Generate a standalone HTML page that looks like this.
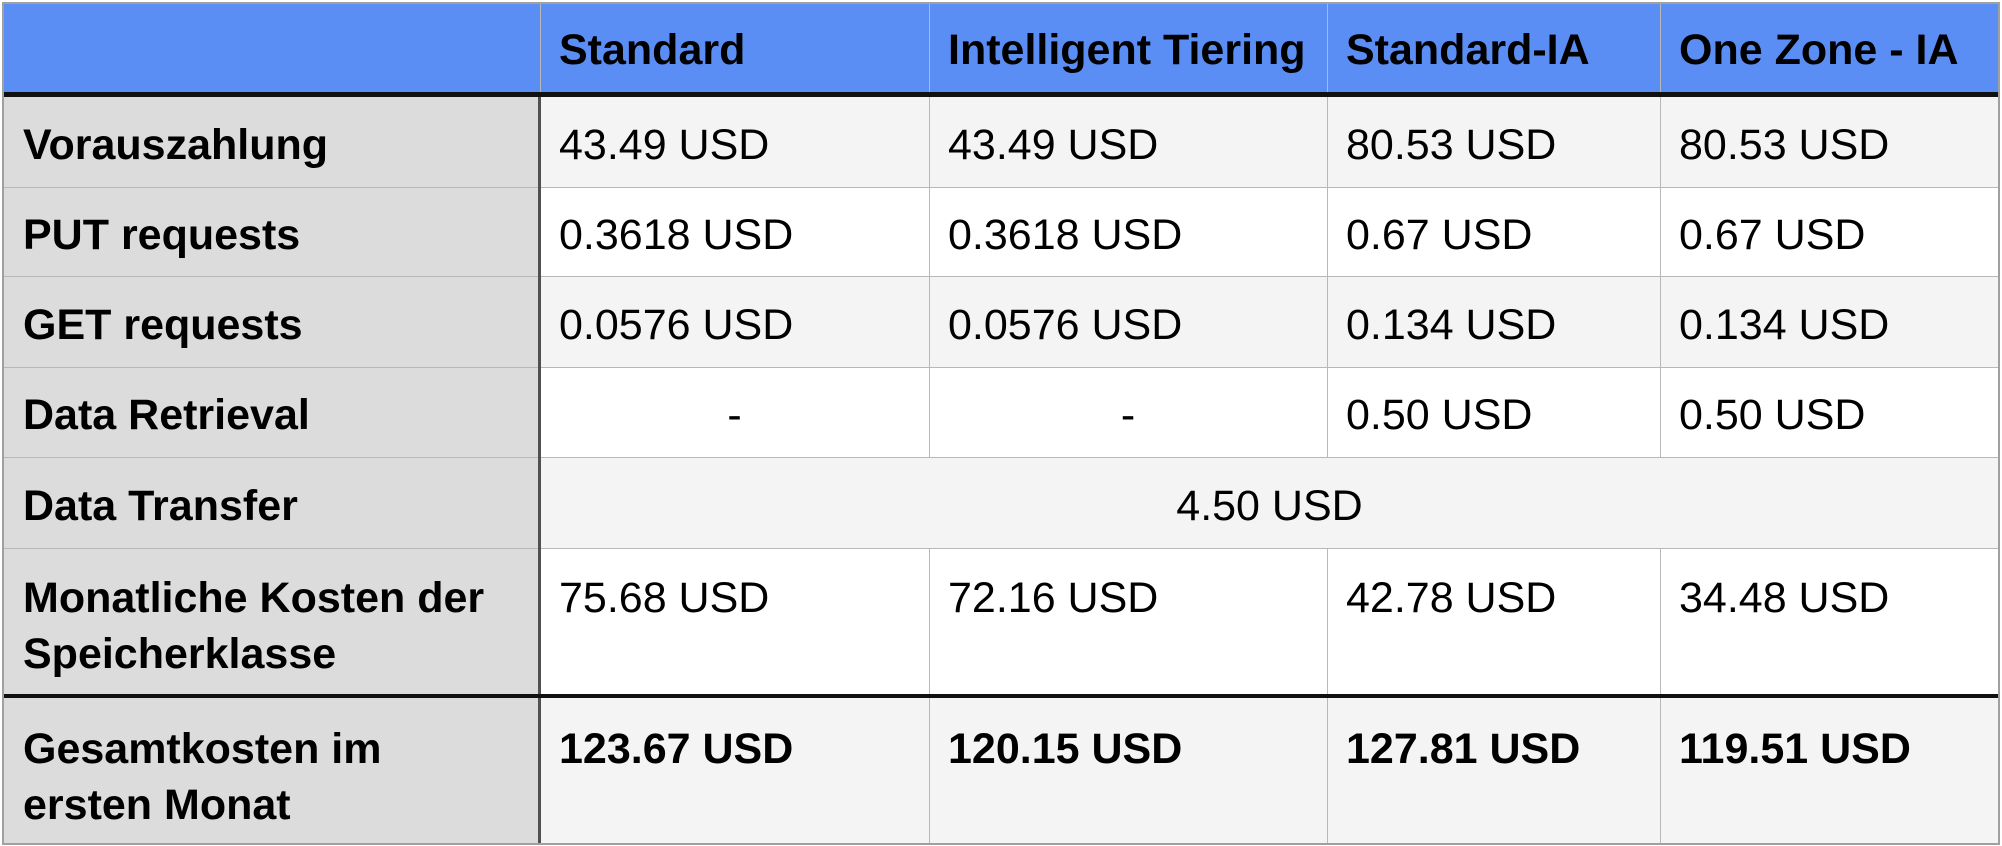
<!DOCTYPE html>
<html><head><meta charset="utf-8"><style>
body{margin:0;width:2002px;height:846px;background:#fff;overflow:hidden;font-family:"Liberation Sans",Arial,sans-serif;}
.c{position:absolute;box-sizing:border-box;display:flex;align-items:center;padding-left:19px;padding-top:5px;font-size:43px;color:#000;}
.t{align-items:flex-start;line-height:56px;}
.h{font-weight:bold;}
.l{position:absolute;}
</style></head><body>
<div id="tbl"></div>
<script>
const colNames=["","Standard","Intelligent Tiering","Standard-IA","One Zone - IA"];
const rowLabels=["Vorauszahlung","PUT requests","GET requests","Data Retrieval","Data Transfer","Monatliche Kosten der Speicherklasse","Gesamtkosten im ersten Monat"];
const vStandard=["43.49 USD","0.3618 USD","0.0576 USD","-","","75.68 USD","123.67 USD"];
const vIntel=["43.49 USD","0.3618 USD","0.0576 USD","-","","72.16 USD","120.15 USD"];
const vIA=["80.53 USD","0.67 USD","0.134 USD","0.50 USD","","42.78 USD","127.81 USD"];
const vOZ=["80.53 USD","0.67 USD","0.134 USD","0.50 USD","","34.48 USD","119.51 USD"];
const transfer="4.50 USD";
const cols=[4,540,929,1327,1660,1999];
const rows=[97,188,277,368,458,549,696,843];
const root=document.getElementById('tbl');
function cell(x,y,w,h,txt,bg,cls,name){
 const d=document.createElement('div');d.className='c '+(cls||'');
 d.style.cssText=`left:${x}px;top:${y}px;width:${w}px;height:${h}px;background:${bg};`;
 d.textContent=txt;
 
 
 root.appendChild(d);return d;}
function line(x,y,w,h,c,name){const d=document.createElement('div');d.className='l';
 d.style.cssText=`left:${x}px;top:${y}px;width:${w}px;height:${h}px;background:${c};`;
 
 
 root.appendChild(d);}
for(let i=0;i<5;i++){const d=cell(cols[i],4,cols[i+1]-cols[i],89,colNames[i],'#5b8ef4','h','header-'+(i||'blank'));d.style.paddingTop='3px';}
const vals=[vStandard,vIntel,vIA,vOZ];
for(let r=0;r<7;r++){
 const y=rows[r],h=rows[r+1]-rows[r];
 const bg=(r%2==0)?'#f4f4f4':'#ffffff';
 const tall=r>=5;
 const lc=cell(cols[0],y,cols[1]-cols[0],h,rowLabels[r],'#dcdcdc','h'+(tall?' t':''),'row-label');
 if(tall){lc.style.paddingTop=(r==5?21:25)+'px';lc.style.paddingRight='40px';}
 if(r==4){const d=cell(cols[1],y,cols[5]-cols[1],h,transfer,bg,'','transfer-value');d.style.justifyContent='center';d.style.paddingLeft='0';continue;}
 for(let c=0;c<4;c++){
  const d=cell(cols[c+1],y,cols[c+2]-cols[c+1],h,vals[c][r],bg,(r==6?'h ':'')+(tall?'t':''),'value-cell');
  if(tall)d.style.paddingTop=(r==5?21:25)+'px';
  if(vals[c][r]=='-'){d.style.justifyContent='center';d.style.paddingLeft='0';}
 }
}
for(let r=1;r<7;r++){ if(r!=6) line(4,rows[r]-1,1995,1,'#b8b8b8','row-divider'); }
for(let c=2;c<5;c++){
 line(cols[c],4,1,rows[4]-4,'#b8b8b8','col-divider');
 line(cols[c],rows[5]-1,1,843-rows[5]+1,'#b8b8b8','col-divider');
}
line(cols[1],4,1,89,'#b8b8b8','col-divider');
line(cols[1]-2,93,3,750,'#505050','label-column-border');
line(4,92,1995,5,'#111','header-border');
line(4,694,1995,4,'#111','total-border');
line(2,2,1998,2,'#a0a0a0','outer-top');
line(2,843,1998,2,'#a0a0a0','outer-bottom');
line(2,2,2,843,'#a0a0a0','outer-left');
line(1998,2,2,843,'#a0a0a0','outer-right');
</script>
</body></html>
